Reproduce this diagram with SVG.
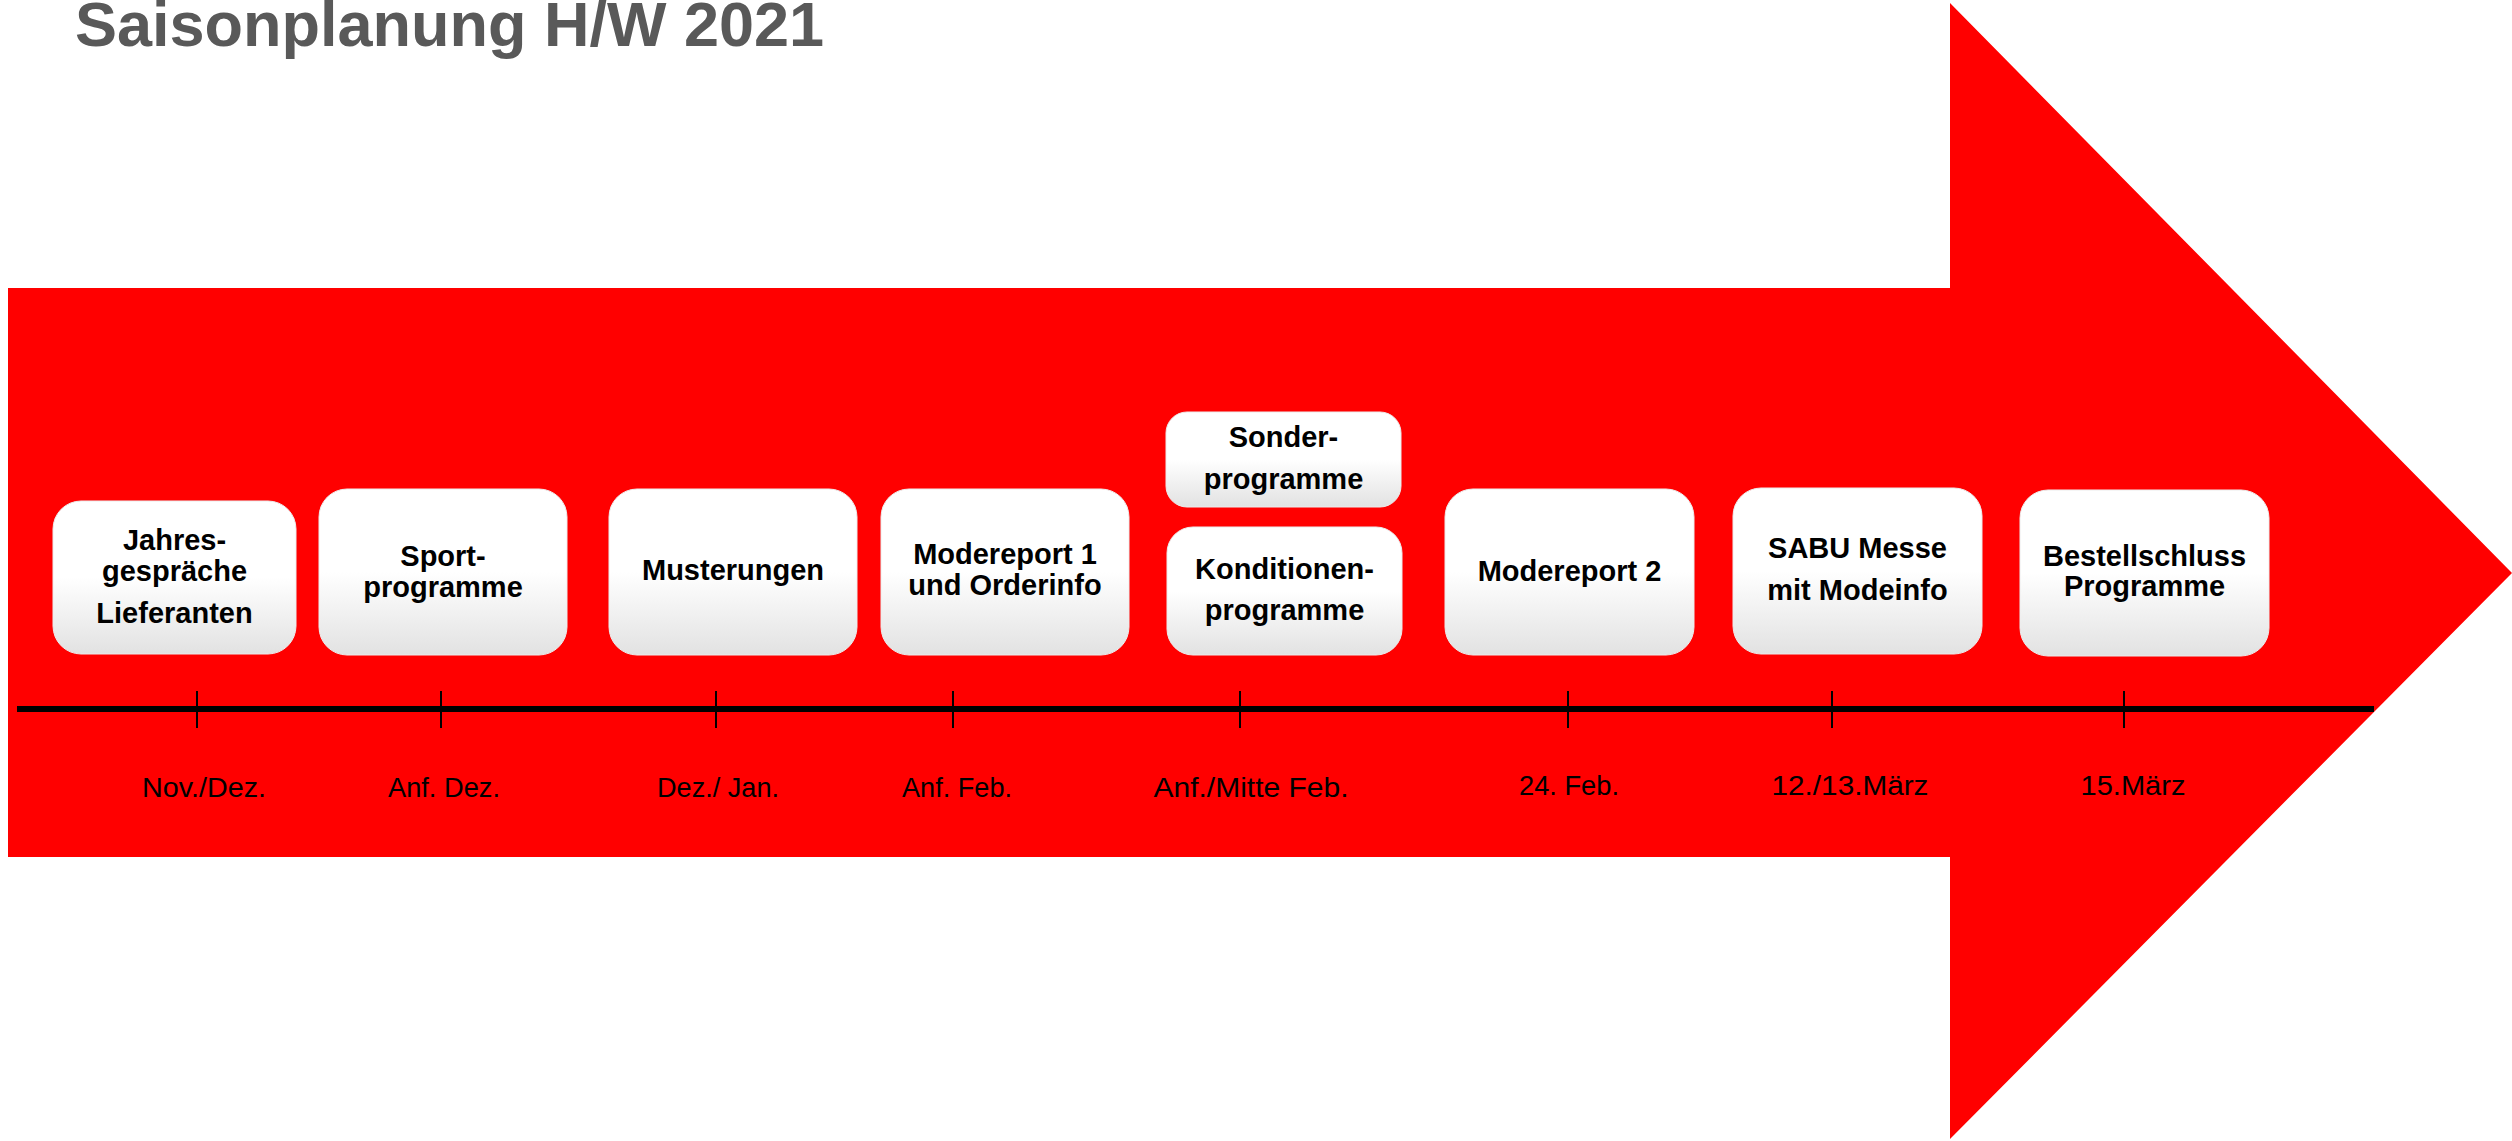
<svg xmlns="http://www.w3.org/2000/svg" width="2512" height="1141" viewBox="0 0 2512 1141">
<defs>
<linearGradient id="boxGrad" x1="0" y1="0" x2="0" y2="1">
<stop offset="0" stop-color="#ffffff"/>
<stop offset="0.5" stop-color="#ffffff"/>
<stop offset="1" stop-color="#e2e2e2"/>
</linearGradient>
<style>
.box{fill:url(#boxGrad);stroke:#ececec;stroke-width:1}
.lbl{font-family:"Liberation Sans",Arial,sans-serif;font-weight:bold;font-size:29px;fill:#000;text-anchor:middle}
.date{font-family:"Liberation Sans",Arial,sans-serif;font-size:28px;fill:#000;text-anchor:middle}
.tick{stroke:#000;stroke-width:2}
</style>
</defs>
<rect width="2512" height="1141" fill="#ffffff"/>
<text x="75" y="46" font-family="Liberation Sans, Arial, sans-serif" font-weight="bold" font-size="63" fill="#595959">Saisonplanung H/W 2021</text>
<g id="arrow">
<polygon points="8,288 1950,288 1950,3 2512,573 1950,1139 1950,857 8,857" fill="#ff0000"/>
</g>
<g id="timeline">
<line x1="17" y1="709" x2="2374" y2="709" stroke="#000" stroke-width="6"/>
<line class="tick" x1="197" y1="691" x2="197" y2="728"/>
<line class="tick" x1="441" y1="691" x2="441" y2="728"/>
<line class="tick" x1="716" y1="691" x2="716" y2="728"/>
<line class="tick" x1="953" y1="691" x2="953" y2="728"/>
<line class="tick" x1="1240" y1="691" x2="1240" y2="728"/>
<line class="tick" x1="1568" y1="691" x2="1568" y2="728"/>
<line class="tick" x1="1832" y1="691" x2="1832" y2="728"/>
<line class="tick" x1="2124" y1="691" x2="2124" y2="728"/>
<text class="date" x="204" y="797" textLength="124" lengthAdjust="spacingAndGlyphs">Nov./Dez.</text>
<text class="date" x="444" y="797" textLength="112" lengthAdjust="spacingAndGlyphs">Anf. Dez.</text>
<text class="date" x="718" y="797" textLength="122" lengthAdjust="spacingAndGlyphs">Dez./ Jan.</text>
<text class="date" x="957" y="797" textLength="110" lengthAdjust="spacingAndGlyphs">Anf. Feb.</text>
<text class="date" x="1251" y="797" textLength="195" lengthAdjust="spacingAndGlyphs">Anf./Mitte Feb.</text>
<text class="date" x="1569" y="795" textLength="100" lengthAdjust="spacingAndGlyphs">24. Feb.</text>
<text class="date" x="1850" y="795" textLength="157" lengthAdjust="spacingAndGlyphs">12./13.März</text>
<text class="date" x="2133" y="795" textLength="105" lengthAdjust="spacingAndGlyphs">15.März</text>
</g>
<g id="n1">
<rect class="box" x="53" y="501" width="243" height="153" rx="28"/>
<text class="lbl" x="174.5" y="550">Jahres-</text>
<text class="lbl" x="174.5" y="581">gespräche</text>
<text class="lbl" x="174.5" y="623">Lieferanten</text>
</g>
<g id="n2">
<rect class="box" x="319" y="489" width="248" height="166" rx="28"/>
<text class="lbl" x="443" y="566">Sport-</text>
<text class="lbl" x="443" y="597">programme</text>
</g>
<g id="n3">
<rect class="box" x="609" y="489" width="248" height="166" rx="28"/>
<text class="lbl" x="733" y="580">Musterungen</text>
</g>
<g id="n4">
<rect class="box" x="881" y="489" width="248" height="166" rx="28"/>
<text class="lbl" x="1005" y="564">Modereport 1</text>
<text class="lbl" x="1005" y="595">und Orderinfo</text>
</g>
<g id="n5">
<rect class="box" x="1166" y="412" width="235" height="95" rx="21"/>
<text class="lbl" x="1283.5" y="447">Sonder-</text>
<text class="lbl" x="1283.5" y="489">programme</text>
</g>
<g id="n6">
<rect class="box" x="1167" y="527" width="235" height="128" rx="26"/>
<text class="lbl" x="1284.5" y="579">Konditionen-</text>
<text class="lbl" x="1284.5" y="620">programme</text>
</g>
<g id="n7">
<rect class="box" x="1445" y="489" width="249" height="166" rx="28"/>
<text class="lbl" x="1569.5" y="581">Modereport 2</text>
</g>
<g id="n8">
<rect class="box" x="1733" y="488" width="249" height="166" rx="28"/>
<text class="lbl" x="1857.5" y="558">SABU Messe</text>
<text class="lbl" x="1857.5" y="600">mit Modeinfo</text>
</g>
<g id="n9">
<rect class="box" x="2020" y="490" width="249" height="166" rx="28"/>
<text class="lbl" x="2144.5" y="566">Bestellschluss</text>
<text class="lbl" x="2144.5" y="596">Programme</text>
</g>
</svg>
